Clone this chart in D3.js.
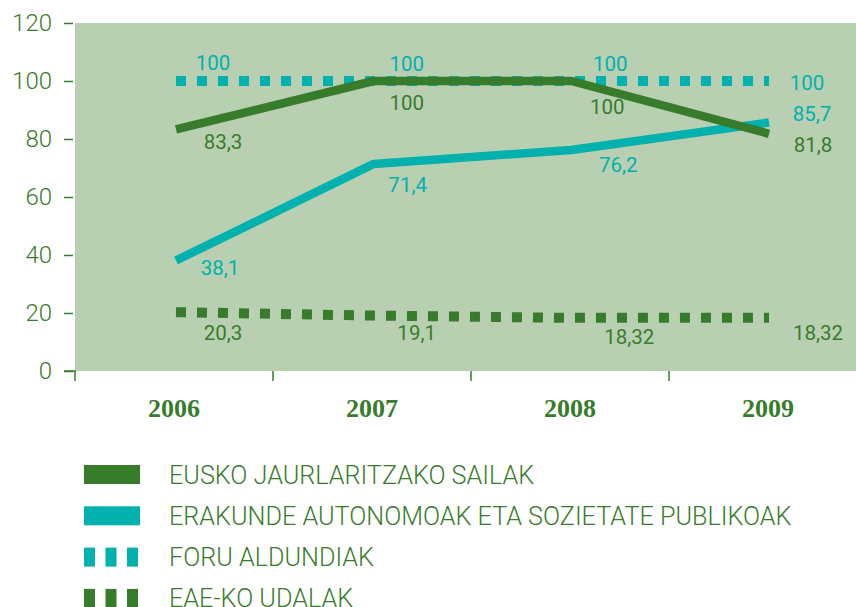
<!DOCTYPE html>
<html>
<head>
<meta charset="utf-8">
<script src="https://cdn.jsdelivr.net/npm/d3@7"></script>
<style>
  body { margin: 0; background: #fff; }
  svg { display: block; }
</style>
</head>
<body>
<main></main>
<script>
// data
const years = ["2006", "2007", "2008", "2009"];
const yTicks = [0, 20, 40, 60, 80, 100, 120];
const seriesNames = [
  "EUSKO JAURLARITZAKO SAILAK",
  "ERAKUNDE AUTONOMOAK ETA SOZIETATE PUBLIKOAK",
  "FORU ALDUNDIAK",
  "EAE-KO UDALAK"
];
const sailak = [83.3, 100, 100, 81.8];
const erakunde = [38.1, 71.4, 76.2, 85.7];
const foru = [100, 100, 100, 100];
const udalak = [20.3, 19.1, 18.32, 18.32];
const sailakLabels = ["83,3", "100", "100", "81,8"];
const erakundeLabels = ["38,1", "71,4", "76,2", "85,7"];
const foruLabels = ["100", "100", "100", "100"];
const udalakLabels = ["20,3", "19,1", "18,32", "18,32"];

// label nudges (px) from each point
const sailakNudge = [[47, 13], [33, 22], [36, 26], [44, 11]];
const erakundeNudge = [[44, 7], [34, 21], [47, 15], [43, -8]];
const foruNudge = [[37, -18], [33, -17], [39, -17], [38, 2]];
const udalakNudge = [[47, 21], [43, 17], [58, 19], [49, 15]];

const green = "#377c2b";
const teal = "#00b1ad";

const series = [
  { name: seriesNames[0], values: sailak, labels: sailakLabels, nudge: sailakNudge, color: green, dotted: false },
  { name: seriesNames[1], values: erakunde, labels: erakundeLabels, nudge: erakundeNudge, color: teal, dotted: false },
  { name: seriesNames[2], values: foru, labels: foruLabels, nudge: foruNudge, color: teal, dotted: true },
  { name: seriesNames[3], values: udalak, labels: udalakLabels, nudge: udalakNudge, color: green, dotted: true }
];

const width = 856;
const height = 607;

const svg = d3.select("main")
  .append("svg")
  .attr("width", width)
  .attr("height", height);

const xBand = d3.scaleBand()
  .domain(years)
  .range([75, 867])
  .padding(0);

const xPoint = d3.scalePoint()
  .domain(years)
  .range([176, 769]);

const yScale = d3.scaleLinear()
  .domain([0, 120])
  .range([371, 23]);

// plot background
svg.append("rect")
  .attr("x", xBand.range()[0])
  .attr("y", yScale(120))
  .attr("width", width - xBand.range()[0])
  .attr("height", yScale(0) - yScale(120))
  .style("fill", "#b9cfb1");

// y axis
const y_axis = d3.axisLeft(yScale)
  .tickValues(yTicks)
  .tickSize(9)
  .tickPadding(12);

const yG = svg.append("g")
  .attr("transform", "translate(73,0)")
  .call(y_axis);
yG.select(".domain").remove();
yG.selectAll("line").style("stroke", green).style("stroke-width", 1.5);
yG.selectAll("text")
  .style("fill", green)
  .style("font-family", "Roboto, sans-serif")
  .style("font-weight", 300)
  .style("font-size", "24px");

// x axis ticks at band edges
const edges = years.map(d => xBand(d)).concat([xBand.range()[1]]);
svg.append("g")
  .selectAll("line")
  .data(edges)
  .enter()
  .append("line")
  .attr("x1", d => d)
  .attr("x2", d => d)
  .attr("y1", yScale(0))
  .attr("y2", yScale(0) + 10)
  .style("stroke", green)
  .style("stroke-width", 1.5);

svg.append("line")
  .attr("x1", 64)
  .attr("x2", 76)
  .attr("y1", yScale(0))
  .attr("y2", yScale(0))
  .style("stroke", green)
  .style("stroke-width", 1.5);

const x_axis = d3.axisBottom(xBand).tickSize(0).tickPadding(0);
const xG = svg.append("g")
  .attr("transform", "translate(0,399)")
  .call(x_axis);
xG.select(".domain").remove();
xG.selectAll("text")
  .style("fill", green)
  .style("font-family", "'Liberation Serif', serif")
  .style("font-weight", "bold")
  .style("font-size", "26px")
  .attr("dy", "0.71em");

// lines
const line = d3.line()
  .x((d, i) => xPoint(years[i]))
  .y(d => yScale(d));

// draw dotted first, solid on top
const drawOrder = [series[2], series[3], series[1], series[0]];
svg.append("g")
  .selectAll("path")
  .data(drawOrder)
  .enter()
  .append("path")
  .attr("d", d => line(d.values))
  .style("fill", "none")
  .style("stroke", d => d.color)
  .style("stroke-width", d => d.dotted ? 10 : 8.5)
  .style("stroke-dasharray", d => d.dotted ? "10,11" : null)
  .style("stroke-linejoin", "round");

// value labels
series.forEach(s => {
  svg.append("g")
    .selectAll("text")
    .data(s.values)
    .enter()
    .append("text")
    .attr("x", (d, i) => xPoint(years[i]) + s.nudge[i][0])
    .attr("y", (d, i) => yScale(d) + s.nudge[i][1])
    .attr("text-anchor", "middle")
    .attr("dominant-baseline", "central")
    .style("fill", s.color)
    .style("font-family", "Roboto, sans-serif")
    .style("font-size", "20.5px")
    .text((d, i) => s.labels[i]);
});

// legend
const legend = svg.append("g").attr("id", "legend");
series.forEach((s, i) => {
  const cy = 474.5 + i * 41.3;
  const row = legend.append("g");
  if (s.dotted) {
    [84, 105.5, 127].forEach(x => {
      row.append("rect")
        .attr("x", x)
        .attr("y", cy - 9.5)
        .attr("width", 11)
        .attr("height", 19)
        .style("fill", s.color);
    });
  } else {
    row.append("rect")
      .attr("x", 84)
      .attr("y", cy - 9.5)
      .attr("width", 56)
      .attr("height", 19)
      .style("fill", s.color);
  }
  row.append("text")
    .attr("x", 169)
    .attr("y", cy)
    .attr("dy", "0.36em")
    .style("fill", green)
    .style("font-family", "Roboto, sans-serif")
    .style("font-weight", 300)
    .style("font-size", "25.2px")
    .text(s.name);
});
</script>
</body>
</html>
